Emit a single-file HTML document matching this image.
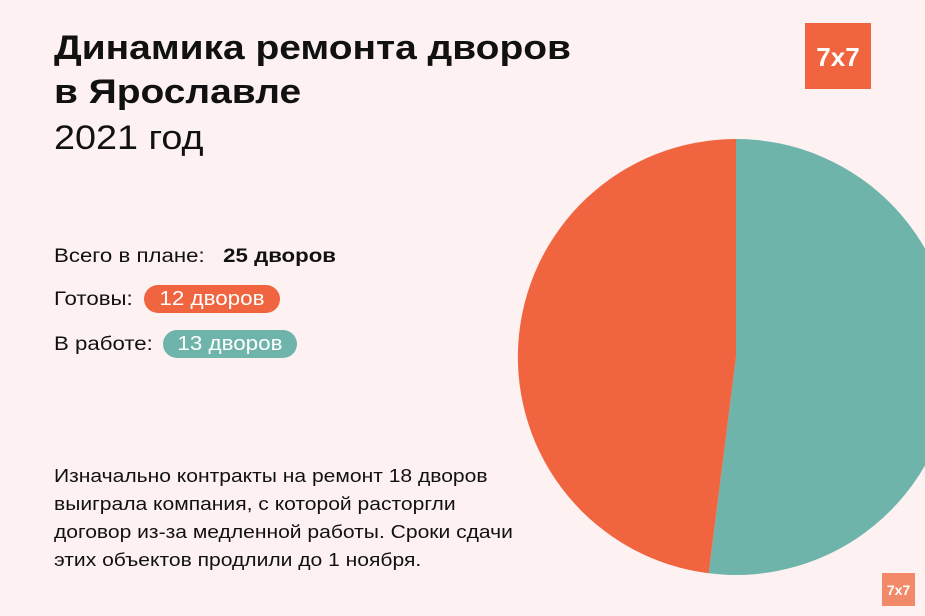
<!DOCTYPE html>
<html><head><meta charset="utf-8"><style>
body{margin:0;width:925px;height:616px;background:#fdf1f1;position:relative;overflow:hidden;font-family:"Liberation Sans","DejaVu Sans",sans-serif;color:#111}
.a{position:absolute;white-space:nowrap;transform-origin:0 0}
.t{font-weight:bold;font-size:34px;line-height:44px;left:54px;top:26px;transform:scaleX(1.145)}
.y{font-size:34px;left:54px;top:116px;line-height:44px;transform:scaleX(1.11)}
.r{font-size:19px;left:54px;line-height:28px;transform:scaleX(1.17)}
.pill{position:absolute;color:#fff;border-radius:14px;height:28px;line-height:28px;font-size:20px;text-align:center}
.pill span{display:inline-block;transform:scaleX(1.12)}
.p{font-size:18px;left:54px;top:462px;line-height:28px;transform:scaleX(1.17)}
</style></head><body>
<div class="a t">Динамика ремонта дворов<br>в Ярославле</div>
<div class="a y">2021 год</div>
<div class="a r" style="top:243px">Всего в плане:&nbsp;&nbsp; <b>25 дворов</b></div>
<div class="a r" style="top:286px">Готовы:</div>
<div class="pill" style="background:#f0653f;left:144px;top:285px;width:136px"><span>12 дворов</span></div>
<div class="a r" style="top:331px">В работе:</div>
<div class="pill" style="background:#6fb4ab;left:163px;top:330px;width:134px"><span>13 дворов</span></div>
<div class="a p">Изначально контракты на ремонт 18 дворов<br>выиграла компания, с которой расторгли<br>договор из-за медленной работы. Сроки сдачи<br>этих объектов продлили до 1 ноября.</div>
<svg class="a" style="left:0;top:0" width="925" height="616">
<path d="M736,357 L736,139 A218,218 0 1 1 708.7,573.3 Z" fill="#6fb4ab"/>
<path d="M736,357 L708.7,573.3 A218,218 0 0 1 736,139 Z" fill="#f0653f"/>
<rect x="805" y="23" width="66" height="66" fill="#f0653f"/>
<text x="838" y="66" text-anchor="middle" font-family="Liberation Sans" font-weight="bold" font-size="26" fill="#fff">7x7</text>
<rect x="882" y="573" width="33" height="33" fill="#f28a6a"/>
<text x="898.5" y="595" text-anchor="middle" font-family="Liberation Sans" font-weight="bold" font-size="14" fill="#fff">7x7</text>
</svg>
</body></html>
